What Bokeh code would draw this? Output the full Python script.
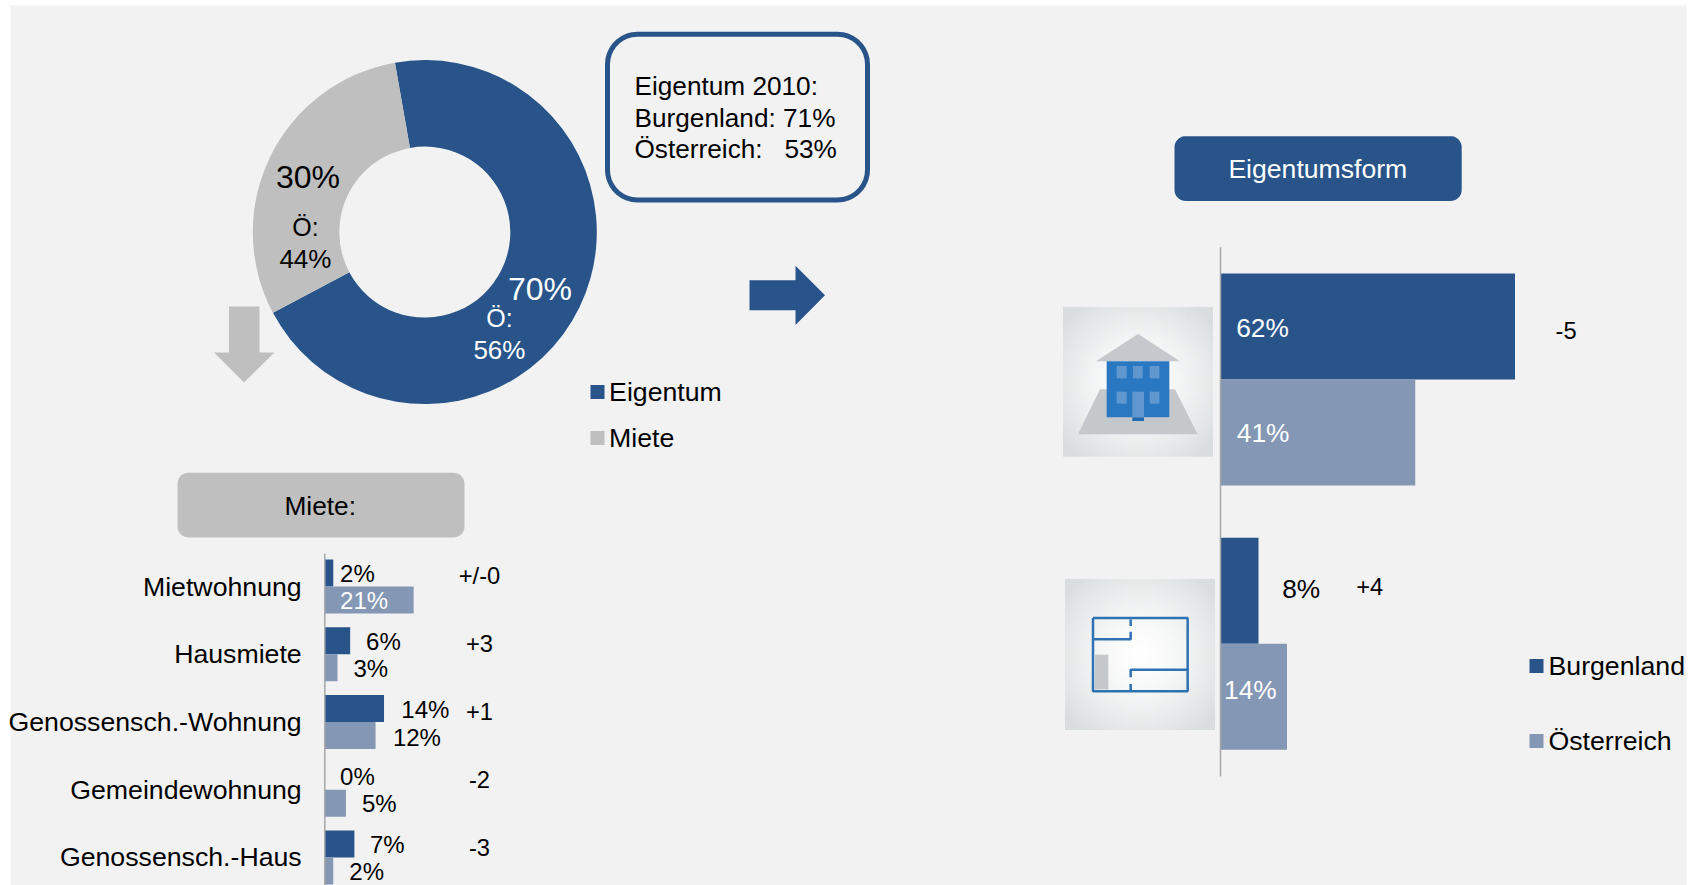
from bokeh.plotting import figure
from bokeh.embed import file_html
from bokeh.resources import INLINE
from bokeh.models import Range1d
from bokeh.core.properties import value
import numpy as np

# ---- data ----
tenure_names = ["Eigentum", "Miete"]
tenure_values = [70, 30]
tenure_labels = ["70%", "30%"]
tenure_oe = ["56%", "44%"]

rent_cats = ["Mietwohnung", "Hausmiete", "Genossensch.-Wohnung", "Gemeindewohnung", "Genossensch.-Haus"]
rent_bgld = [2, 6, 14, 0, 7]
rent_oe = [21, 3, 12, 5, 2]
rent_change = ["+/-0", "+3", "+1", "-2", "-3"]

own_cats = ["Haus", "Wohnung"]
own_bgld = [62, 8]
own_oe = [41, 14]
own_change = ["-5", "+4"]

info_lines = ["Eigentum 2010:", "Burgenland: 71%", "Österreich:\u00a0\u00a0\u00a053%"]
series_names = ["Burgenland", "Österreich"]

BLUE = "#28548A"
LIGHT = "#8497B5"
GREY = "#BFBFBF"
BG = "#F2F2F2"
FONT = value("Liberation Sans")

W, H = 1694, 885
p = figure(width=W, height=H, x_range=Range1d(0, W), y_range=Range1d(H, 0),
           output_backend="svg", toolbar_location=None, min_border=0,
           background_fill_color="white", border_fill_color="white", outline_line_color=None)
p.axis.visible = False
p.grid.visible = False

def txt(x, y, s, size=26.7, color="black", align="left"):
    dx = 0 if align == "right" else -1
    p.text([x + dx], [y - 0.6], text=[s], text_font=FONT, text_font_size=f"{size}px", text_color=color,
           text_align=align, text_baseline="middle")

def rrect(x0, y0, x1, y1, r, fill, line=None, lw=0):
    t = np.linspace(0, np.pi / 2, 10)
    xs, ys = [], []
    for cx, cy, a in [(x1 - r, y0 + r, -np.pi / 2), (x1 - r, y1 - r, 0), (x0 + r, y1 - r, np.pi / 2), (x0 + r, y0 + r, np.pi)]:
        xs += list(cx + r * np.cos(t + a))
        ys += list(cy + r * np.sin(t + a))
    p.patch(xs, ys, fill_color=fill, line_color=line, line_width=lw)

# background panel
p.quad(left=[10], right=[1686], top=[5], bottom=[885], fill_color=BG, line_color=None)

# ---- donut ----
CX, CY = 424.3, 231.6
angles = np.cumsum([0] + tenure_values) / sum(tenure_values) * 2 * np.pi
start = np.deg2rad(-152)
for i, c in enumerate([BLUE, GREY]):
    p.annular_wedge([CX], [CY], inner_radius=85.5, outer_radius=172,
                    start_angle=start + angles[i], end_angle=start + angles[i + 1],
                    direction="anticlock", fill_color=c, line_color=None)
txt(540.5, 289.3, tenure_labels[0], 32, "white", "center")
txt(499.9, 318, "Ö:", 25, "white", "center")
txt(499.9, 350, tenure_oe[0], 26, "white", "center")
txt(308.5, 176.7, tenure_labels[1], 32, "black", "center")
txt(305.9, 227, "Ö:", 25, "black", "center")
txt(305.9, 258.7, tenure_oe[1], 26, "black", "center")
# donut legend
for (yc, name, c) in zip([391.5, 437.5], tenure_names, [BLUE, GREY]):
    p.quad(left=[590], right=[604], top=[yc - 7], bottom=[yc + 7], fill_color=c, line_color=None)
    txt(609.6, yc + 0.6, name)

# info box
rrect(607, 33.7, 867, 199.5, 30, BG, BLUE, 5)
for yy, s in zip([85.6, 118, 149.3], info_lines):
    txt(635, yy, s, 26.2)

# arrows
p.patch([749, 795, 795, 824.5, 795, 795, 749], [279.8, 279.8, 265.2, 294.8, 324.5, 309.8, 309.8], fill_color=BLUE, line_color=None)
p.patch([228.5, 259, 259, 273.9, 243.5, 213.5, 228.5], [306, 306, 352, 352, 382, 352, 352], fill_color=GREY, line_color=None)

# ---- rent bars: own scales (value -> px, group index -> px) ----
rx0, rk = 324.3, 4.23
ry0, rp = 586.0, 67.75
p.extra_x_ranges["rent"] = Range1d((0 - rx0) / rk, (W - rx0) / rk)
p.extra_y_ranges["rent"] = Range1d((H - ry0) / rp, (0 - ry0) / rp)
bh = 27 / rp
idx = list(range(len(rent_cats)))
p.hbar(y=[i - bh / 2 for i in idx], left=0, right=rent_bgld, height=bh, fill_color=BLUE, line_color=None,
       x_range_name="rent", y_range_name="rent")
p.hbar(y=[i + bh / 2 for i in idx], left=0, right=rent_oe, height=bh, fill_color=LIGHT, line_color=None,
       x_range_name="rent", y_range_name="rent")
p.segment([0], [(553 - ry0) / rp], [0], [(H - ry0) / rp], line_color="#A6A6A6", line_width=1.5,
          x_range_name="rent", y_range_name="rent")
rect_lbl = [(340.6, 574), (366.6, 642), (401.8, 710), (340.6, 776.7), (370.5, 845)]
oe_lbl = [(340.6, 600.7), (354, 669), (393.4, 737.3), (362.4, 804), (349.8, 871.7)]
chg_y = [576, 644, 711.7, 780, 848]
cat_y = [586.7, 654, 722, 790, 856.7]
for i in idx:
    txt(rect_lbl[i][0], rect_lbl[i][1], f"{rent_bgld[i]}%", 24)
    txt(oe_lbl[i][0], oe_lbl[i][1], f"{rent_oe[i]}%", 24, "white" if i == 0 else "black")
    txt(480, chg_y[i], rent_change[i], 23.7, "black", "center")
    txt(301.2, cat_y[i], rent_cats[i], 26.7, "black", "right")

rrect(177, 472.3, 464, 537, 11, GREY)
txt(320.7, 506, "Miete:", 26.3, "black", "center")

# ---- ownership bars ----
ox0, ok = 1220.0, 4.75
oy0, op = 379.0, 264.3
p.extra_x_ranges["own"] = Range1d((0 - ox0) / ok, (W - ox0) / ok)
p.extra_y_ranges["own"] = Range1d((H - oy0) / op, (0 - oy0) / op)
oh = 106 / op
oidx = list(range(len(own_cats)))
p.hbar(y=[i - oh / 2 for i in oidx], left=0, right=own_bgld, height=oh, fill_color=BLUE, line_color=None,
       x_range_name="own", y_range_name="own")
p.hbar(y=[i + oh / 2 for i in oidx], left=0, right=own_oe, height=oh, fill_color=LIGHT, line_color=None,
       x_range_name="own", y_range_name="own")
p.segment([0], [(246.7 - oy0) / op], [0], [(776 - oy0) / op], line_color="#A6A6A6", line_width=1.5,
          x_range_name="own", y_range_name="own")
txt(1236.7, 328.3, f"{own_bgld[0]}%", 26.3, "white")
txt(1237.3, 433.3, f"{own_oe[0]}%", 26.3, "white")
txt(1282.7, 588.6, f"{own_bgld[1]}%", 26.3)
txt(1224.5, 690, f"{own_oe[1]}%", 26.3, "white")
txt(1556, 330.5, own_change[0], 23.7)
txt(1356.7, 587, own_change[1], 23.7)

rrect(1174, 135.7, 1461.2, 200.4, 11, BLUE)
txt(1318.3, 169.3, "Eigentumsform", 26.6, "white", "center")

for (yy, name, c) in zip([665.5, 740.5], series_names, [BLUE, LIGHT]):
    p.quad(left=[1529], right=[1543], top=[yy - 7], bottom=[yy + 7], fill_color=c, line_color=None)
    txt(1549, yy + 0.1, name, 26.7)

# ---- icons ----
def glow(x, y, w, h):
    n = 64
    u, v = np.meshgrid(np.linspace(-1, 1, n), np.linspace(-1, 1, n))
    d = np.clip(np.sqrt(u ** 2 + v ** 2) / 1.3, 0, 1)
    a, b = np.array([255, 255, 255]), np.array([218, 221, 222])
    img = np.zeros((n, n), dtype=np.uint32)
    view = img.view(dtype=np.uint8).reshape((n, n, 4))
    for k in range(3):
        view[:, :, k] = (a[k] + (b[k] - a[k]) * d ** 1.5).astype(np.uint8)
    view[:, :, 3] = 255
    p.image_rgba(image=[img], x=[x], y=[y], dw=[w], dh=[h])

def rect3(ox, oy, x0, y0, x1, y1, c):
    p.quad(left=[ox + x0 / 3], right=[ox + x1 / 3], top=[oy + y0 / 3], bottom=[oy + y1 / 3], fill_color=c, line_color=None)

def poly3(ox, oy, pts, c):
    p.patch([ox + a / 3 for a, b in pts], [oy + b / 3 for a, b in pts], fill_color=c, line_color=None)

hx, hy = 1039.5, 279.5
glow(hx + 23, hy + 27, 150, 149.7)
poly3(hx, hy, [(114, 463), (180, 328), (405, 328), (473, 463)], "#C4C8CB")
poly3(hx, hy, [(168, 244), (294, 162), (420, 244)], "#C5C8CC")
rect3(hx, hy, 200, 244, 388, 412, "#2A78C2")
for (a, b) in [(230, 260), (279, 308), (329, 358)]:
    rect3(hx, hy, a, 258, b, 295, "#5F97CE")
for (a, b) in [(230, 260), (329, 358)]:
    rect3(hx, hy, a, 335, b, 371, "#5F97CE")
rect3(hx, hy, 277, 335, 312, 412, "#5F97CE")
rect3(hx, hy, 277, 412, 312, 423, "#2068B0")

fx, fy = 1039.5, 559.5
glow(fx + 25, fy + 19, 150, 151)
rect3(fx, fy, 165, 284, 205, 388, "#C4C8CB")
plan = [[(159, 174), (443, 174), (443, 394), (159, 394), (159, 174)],
        [(160, 238), (272, 238), (272, 215)],
        [(272, 178), (272, 198)],
        [(443, 329), (272, 329), (272, 352)],
        [(272, 372), (272, 392)]]
for seg in plan:
    p.line([fx + a / 3 for a, b in seg], [fy + b / 3 for a, b in seg], line_color="#2F72B4", line_width=2.5)

open("out.html", "w").write(file_html(p, INLINE))
